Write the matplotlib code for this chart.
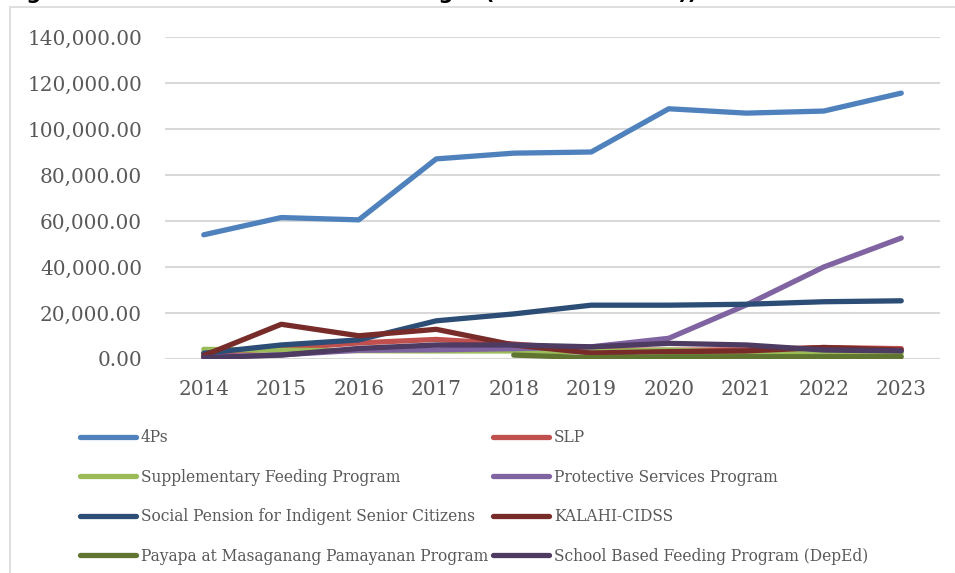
import numpy as np
import matplotlib.pyplot as plt
from matplotlib.patches import Rectangle

years = [2014, 2015, 2016, 2017, 2018, 2019, 2020, 2021, 2022, 2023]

four_ps = [54000, 61500, 60500, 87000, 89500, 90000, 108800, 106900, 107800, 115600]
slp = [2600, 4500, 7000, 8500, 6500, 4000, 3800, 4000, 5000, 4500]
supp_feeding = [4200, 3800, 3600, 3500, 3500, 3200, 3900, 2800, 2500, 2500]
protective = [800, 1800, 3800, 4000, 4500, 5300, 9000, 23500, 40000, 52600]
social_pension = [2500, 6100, 8300, 16600, 19600, 23400, 23400, 23800, 24900, 25300]
kalahi = [1500, 15100, 10100, 12900, 6100, 2600, 3200, 3500, 5000, 3900]
payapa = [np.nan, np.nan, np.nan, np.nan, 1700, 600, 1000, 1000, 1000, 1000]
school_feeding = [600, 1700, 4600, 6100, 6100, 5300, 6800, 6100, 3900, 3500]

labels = ['4Ps', 'SLP', 'Supplementary Feeding Program', 'Protective Services Program',
          'Social Pension for Indigent Senior Citizens', 'KALAHI-CIDSS',
          'Payapa at Masaganang Pamayanan Program', 'School Based Feeding Program (DepEd)']
series = [four_ps, slp, supp_feeding, protective, social_pension, kalahi, payapa, school_feeding]
colors = ['#4f81bd', '#c0504d', '#9bbb59', '#8064a2', '#2c4d75', '#772c2a', '#5f7530', '#4d3b62']

plt.rcParams['font.family'] = 'DejaVu Serif'
grey = '#595959'

fig = plt.figure(figsize=(9.55, 5.73), dpi=100)

# chart frame (cut off at the right and bottom) and the clipped caption above it
fig.patches.append(Rectangle((10 / 955, -0.5), 2, 1.5 - 7 / 573, transform=fig.transFigure,
                             facecolor='none', edgecolor='#d9d9d9', linewidth=1.2))
fig.text(5 / 955, 1.0 + 1 / 573, 'Figure 4. Allocation for Selected Budget (in Million Pesos))',
         fontsize=15, fontweight='bold', family='DejaVu Sans', va='baseline', ha='left')

ax = fig.add_axes([165 / 955, 1 - 359 / 573, 775 / 955, 322 / 573])

lines = []
for vals, lab, col in zip(series, labels, colors):
    ln, = ax.plot(years, vals, color=col, linewidth=3.8, label=lab,
                  solid_capstyle='round', solid_joinstyle='round')
    lines.append(ln)

ax.set_xlim(2013.5, 2023.5)
ax.set_ylim(0, 140000)
ax.set_xticks(years)
ax.set_yticks(np.arange(0, 140001, 20000))
ax.set_yticklabels(['{:,.2f}'.format(v) for v in np.arange(0, 140001, 20000)])
ax.tick_params(axis='both', length=0, labelsize=14.4, colors=grey)
ax.tick_params(axis='x', pad=15)
ax.tick_params(axis='y', pad=16.5)
ax.grid(axis='y', color='#d9d9d9', linewidth=1.5)
ax.set_axisbelow(True)
for s in ax.spines.values():
    s.set_visible(False)

order = [0, 2, 4, 6, 1, 3, 5, 7]
leg = fig.legend([lines[i] for i in order], [labels[i] for i in order],
                 loc='upper left', bbox_to_anchor=(80 / 955, 1 - 429 / 573),
                 ncol=2, frameon=False, fontsize=11.2, handlelength=3.6,
                 handletextpad=0.3, columnspacing=0.35, labelspacing=1.45,
                 borderpad=0, borderaxespad=0)
for t in leg.get_texts():
    t.set_color(grey)

fig.savefig('out.png', dpi=100)
